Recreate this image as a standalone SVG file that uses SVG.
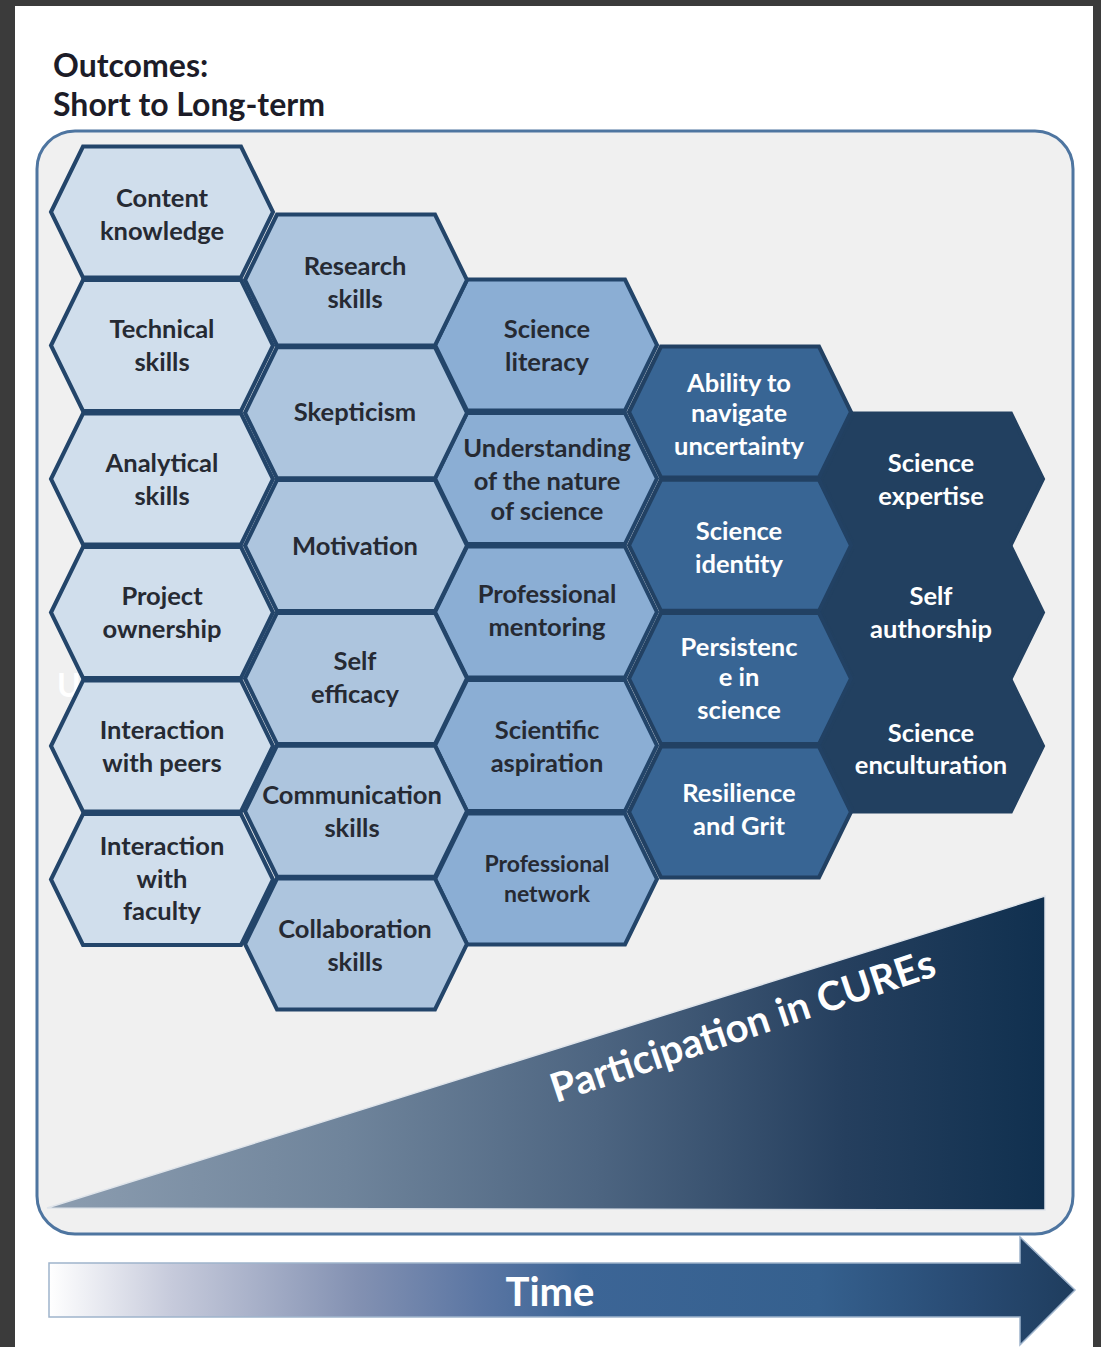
<svg xmlns="http://www.w3.org/2000/svg" width="1101" height="1347" viewBox="0 0 1101 1347">
<style>
.c1{fill:#d0deec;stroke:#23456a;stroke-width:4}
.c2{fill:#adc5de;stroke:#23456a;stroke-width:4}
.c3{fill:#8baed4;stroke:#23456a;stroke-width:4}
.c4{fill:#386594;stroke:#224163;stroke-width:4}
.c5{fill:#224060;stroke:#224060;stroke-width:4}
.t{font-family:Lato,"Liberation Sans",sans-serif;font-weight:bold;font-size:25.5px;text-anchor:middle;fill:#262a33}
.w{fill:#ffffff}
.s{font-size:23px}
.title{font-family:Lato,"Liberation Sans",sans-serif;font-weight:bold;font-size:32px;fill:#1c1c28}
</style>
<defs>
<polygon id="hx" points="0,0 32,-65.5 190,-65.5 222,0 190,65.5 32,65.5" stroke-linejoin="miter"/>
<linearGradient id="triGrad" gradientUnits="userSpaceOnUse" x1="47" y1="0" x2="1045" y2="0">
<stop offset="0" stop-color="#8c9db0"/>
<stop offset="0.3" stop-color="#6f849b"/>
<stop offset="0.55" stop-color="#4d6581"/>
<stop offset="0.8" stop-color="#253f5e"/>
<stop offset="1" stop-color="#10304f"/>
</linearGradient>
<linearGradient id="arrGrad" gradientUnits="userSpaceOnUse" x1="49" y1="0" x2="1075" y2="0">
<stop offset="0" stop-color="#ffffff"/>
<stop offset="0.12" stop-color="#c6cadb"/>
<stop offset="0.3" stop-color="#8391b2"/>
<stop offset="0.42" stop-color="#5b76a3"/>
<stop offset="0.52" stop-color="#3c6596"/>
<stop offset="0.75" stop-color="#35608e"/>
<stop offset="0.9" stop-color="#284a72"/>
<stop offset="1" stop-color="#1f3d5e"/>
</linearGradient>
</defs>

<rect x="0" y="0" width="1101" height="1347" fill="#3b3b3b"/>
<rect x="15" y="6" width="1078" height="1341" fill="#ffffff"/>

<text class="title" x="53" y="77">Outcomes:</text>
<text class="title" x="53" y="116">Short to Long-term</text>

<rect id="frame" x="37" y="131" width="1036" height="1103" rx="38" fill="#f0f0f0" stroke="#4e75a0" stroke-width="3"/>

<g id="participation">
<polygon points="47,1208 1045,896 1045,1210" fill="url(#triGrad)" stroke="#dfe4ea" stroke-width="1.5"/>
<text x="556" y="1103" transform="rotate(-18.5 556 1103)" font-family="Lato, 'Liberation Sans', sans-serif" font-weight="bold" font-size="40" fill="#ffffff">Participation in CUREs</text>
</g>

<g id="time">
<polygon points="49,1263 1020,1263 1020,1237 1075,1290 1020,1345 1020,1317 49,1317" fill="url(#arrGrad)" stroke="#9fb4cc" stroke-width="1.5"/>
<text x="550" y="1306" text-anchor="middle" font-family="Lato, 'Liberation Sans', sans-serif" font-weight="bold" font-size="40" fill="#ffffff">Time</text>
</g>

<text x="57" y="697" font-family="Lato, 'Liberation Sans', sans-serif" font-weight="bold" font-size="32" fill="#ffffff">U</text>

<g id="col5">
<g id="science-expertise"><use href="#hx" x="821" y="479" class="c5"/><text class="t w" x="931" y="472">Science</text><text class="t w" x="931" y="505">expertise</text></g>
<g id="self-authorship"><use href="#hx" x="821" y="612.5" class="c5"/><text class="t w" x="931" y="605">Self</text><text class="t w" x="931" y="638">authorship</text></g>
<g id="science-enculturation"><use href="#hx" x="821" y="746" class="c5"/><text class="t w" x="931" y="742">Science</text><text class="t w" x="931" y="774">enculturation</text></g>
</g>

<g id="col4">
<g id="ability-navigate"><use href="#hx" x="629" y="412" class="c4"/><text class="t w" x="739" y="392">Ability to</text><text class="t w" x="739" y="422">navigate</text><text class="t w" x="739" y="455">uncertainty</text></g>
<g id="science-identity"><use href="#hx" x="629" y="545.3" class="c4"/><text class="t w" x="739" y="540">Science</text><text class="t w" x="739" y="573">identity</text></g>
<g id="persistence"><use href="#hx" x="629" y="678.6" class="c4"/><text class="t w" x="739" y="656">Persistenc</text><text class="t w" x="739" y="686">e in</text><text class="t w" x="739" y="719">science</text></g>
<g id="resilience"><use href="#hx" x="629" y="812" class="c4"/><text class="t w" x="739" y="802">Resilience</text><text class="t w" x="739" y="835">and Grit</text></g>
</g>

<g id="col3">
<g id="science-literacy"><use href="#hx" x="435" y="345" class="c3"/><text class="t" x="547" y="338">Science</text><text class="t" x="547" y="371">literacy</text></g>
<g id="nature-of-science"><use href="#hx" x="435" y="478.5" class="c3"/><text class="t" x="547" y="457">Understanding</text><text class="t" x="547" y="490">of the nature</text><text class="t" x="547" y="520">of science</text></g>
<g id="professional-mentoring"><use href="#hx" x="435" y="612" class="c3"/><text class="t" x="547" y="603">Professional</text><text class="t" x="547" y="636">mentoring</text></g>
<g id="scientific-aspiration"><use href="#hx" x="435" y="745.5" class="c3"/><text class="t" x="547" y="739">Scientific</text><text class="t" x="547" y="772">aspiration</text></g>
<g id="professional-network"><use href="#hx" x="435" y="879" class="c3"/><text class="t s" x="547" y="872">Professional</text><text class="t s" x="547" y="902">network</text></g>
</g>

<g id="col2">
<g id="research-skills"><use href="#hx" x="245" y="280" class="c2"/><text class="t" x="355" y="275">Research</text><text class="t" x="355" y="308">skills</text></g>
<g id="skepticism"><use href="#hx" x="245" y="412.8" class="c2"/><text class="t" x="355" y="421">Skepticism</text></g>
<g id="motivation"><use href="#hx" x="245" y="545.6" class="c2"/><text class="t" x="355" y="555">Motivation</text></g>
<g id="self-efficacy"><use href="#hx" x="245" y="678.4" class="c2"/><text class="t" x="355" y="670">Self</text><text class="t" x="355" y="703">efficacy</text></g>
<g id="communication-skills"><use href="#hx" x="245" y="811.2" class="c2"/><text class="t" x="352" y="804">Communication</text><text class="t" x="352" y="837">skills</text></g>
<g id="collaboration-skills"><use href="#hx" x="245" y="944" class="c2"/><text class="t" x="355" y="938">Collaboration</text><text class="t" x="355" y="971">skills</text></g>
</g>

<g id="col1">
<g id="content-knowledge"><use href="#hx" x="51" y="212" class="c1"/><text class="t" x="162" y="207">Content</text><text class="t" x="162" y="240">knowledge</text></g>
<g id="technical-skills"><use href="#hx" x="51" y="345.5" class="c1"/><text class="t" x="162" y="338">Technical</text><text class="t" x="162" y="371">skills</text></g>
<g id="analytical-skills"><use href="#hx" x="51" y="479" class="c1"/><text class="t" x="162" y="472">Analytical</text><text class="t" x="162" y="505">skills</text></g>
<g id="project-ownership"><use href="#hx" x="51" y="612.5" class="c1"/><text class="t" x="162" y="605">Project</text><text class="t" x="162" y="638">ownership</text></g>
<g id="interaction-peers"><use href="#hx" x="51" y="746" class="c1"/><text class="t" x="162" y="739">Interaction</text><text class="t" x="162" y="772">with peers</text></g>
<g id="interaction-faculty"><use href="#hx" x="51" y="879.5" class="c1"/><text class="t" x="162" y="855">Interaction</text><text class="t" x="162" y="888">with</text><text class="t" x="162" y="920">faculty</text></g>
</g>

<g id="connectors"></g>
</svg>
